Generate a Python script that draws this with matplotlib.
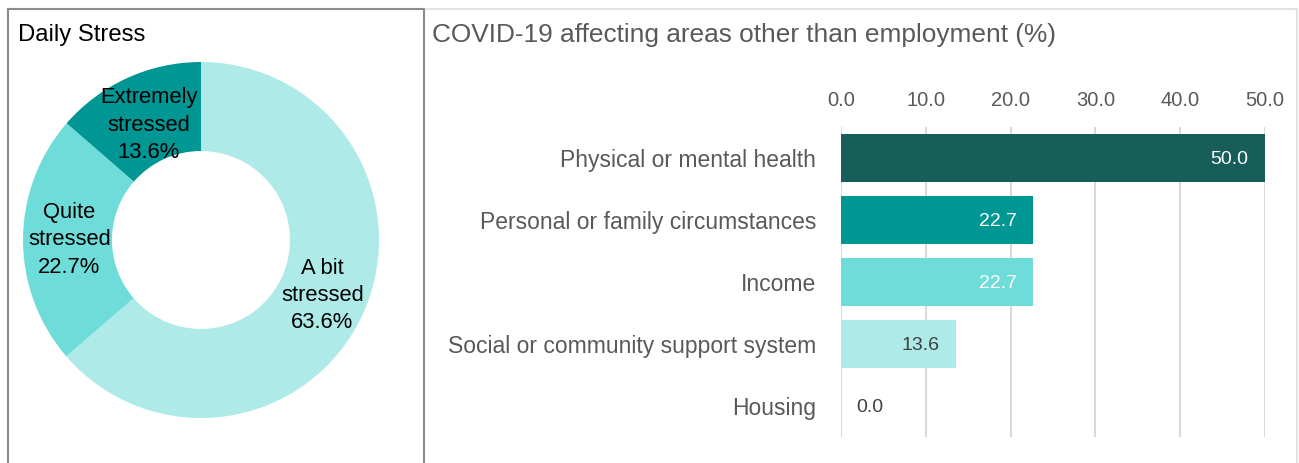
import matplotlib
matplotlib.use("Agg")
import matplotlib.pyplot as plt
from matplotlib.lines import Line2D
import numpy as np

plt.rcParams['font.family'] = ['Liberation Sans', 'DejaVu Sans']

# Daily stress donut
stress_labels = ["A bit\nstressed", "Quite\nstressed", "Extremely\nstressed"]
stress_values = [63.6, 22.7, 13.6]
stress_colors = ["#ADEAE8", "#6EDCD8", "#009693"]

# COVID-19 impact bars
areas = ["Physical or mental health", "Personal or family circumstances",
         "Income", "Social or community support system", "Housing"]
area_values = [50.0, 22.7, 22.7, 13.6, 0.0]
area_colors = ["#175E5A", "#009693", "#6EDCD8", "#ADEAE8", "#ADEAE8"]
label_colors = ["white", "white", "white", "#404040", "#404040"]
x_ticks = [0, 10, 20, 30, 40, 50]

W, H = 1299, 463
fig = plt.figure(figsize=(W / 100, H / 100), dpi=100)
fig.patch.set_facecolor("white")

def fx(px):
    return px / W

def fy(py):
    return 1 - py / H

# panel frames
fig.add_artist(Line2D([fx(424), fx(1297)], [fy(8.5), fy(8.5)], color="#E3E3E3", lw=1.5))
fig.add_artist(Line2D([fx(1297), fx(1297)], [fy(8.5), fy(463)], color="#E3E3E3", lw=1.5))
fig.add_artist(Line2D([fx(7.5), fx(424), fx(424)], [fy(8.5), fy(8.5), fy(463)], color="#8C8C8C", lw=1.5))
fig.add_artist(Line2D([fx(7.5), fx(7.5)], [fy(8.5), fy(463)], color="#8C8C8C", lw=1.5))

# donut chart
r_px = 178
cx, cy = 201, 240
ax1 = fig.add_axes([fx(cx - r_px), fy(cy + r_px), 2 * r_px / W, 2 * r_px / H])
wedges, _ = ax1.pie(stress_values, colors=stress_colors, startangle=90, counterclock=False,
                    radius=1.0, wedgeprops=dict(width=0.5, edgecolor="none"))
ax1.set_xlim(-1, 1)
ax1.set_ylim(-1, 1)
ax1.set_aspect("equal")
ax1.axis("off")
label_r = [0.75, 0.74, 0.71]
for w, lab, v, r in zip(wedges, stress_labels, stress_values, label_r):
    ang = np.deg2rad((w.theta1 + w.theta2) / 2)
    ax1.text(r * np.cos(ang), r * np.sin(ang), f"{lab}\n{v:.1f}%",
             ha="center", va="center", fontsize=15.8, color="black", linespacing=1.4)

fig.text(fx(18), fy(35), "Daily Stress", ha="left", va="center", fontsize=17.2, color="black")

# bar chart
fig.text(fx(432), fy(35), "COVID-19 affecting areas other than employment (%)",
         ha="left", va="center", fontsize=18.9, color="#595959")

ax2 = fig.add_axes([fx(841), fy(437), (1265 - 841) / W, (437 - 127) / H])
ypos = np.arange(len(areas))
ax2.barh(ypos, area_values, height=0.77, color=area_colors, zorder=3)
ax2.set_xlim(0, 50)
ax2.set_ylim(len(areas) - 0.5, -0.5)
ax2.set_xticks(x_ticks)
ax2.set_xticklabels([f"{t:.1f}" for t in x_ticks])
ax2.xaxis.tick_top()
ax2.tick_params(axis="x", length=0, pad=12, labelsize=14.5, labelcolor="#595959")
ax2.set_yticks(ypos)
ax2.set_yticklabels(areas)
ax2.tick_params(axis="y", length=0, pad=18, labelsize=16.5, labelcolor="#595959")
ax2.grid(axis="x", color="#D9D9D9", lw=1.5, zorder=0)
for s in ax2.spines.values():
    s.set_visible(False)

for y, v, c in zip(ypos, area_values, label_colors):
    if v > 5:
        ax2.annotate(f"{v:.1f}", (v, y), xytext=(-12, 0), textcoords="offset points",
                     ha="right", va="center_baseline", fontsize=14, color=c, zorder=4)
    else:
        ax2.annotate(f"{v:.1f}", (v, y), xytext=(11, 0), textcoords="offset points",
                     ha="left", va="center_baseline", fontsize=14, color=c, zorder=4)

fig.savefig("out.png", dpi=100, facecolor="white")
